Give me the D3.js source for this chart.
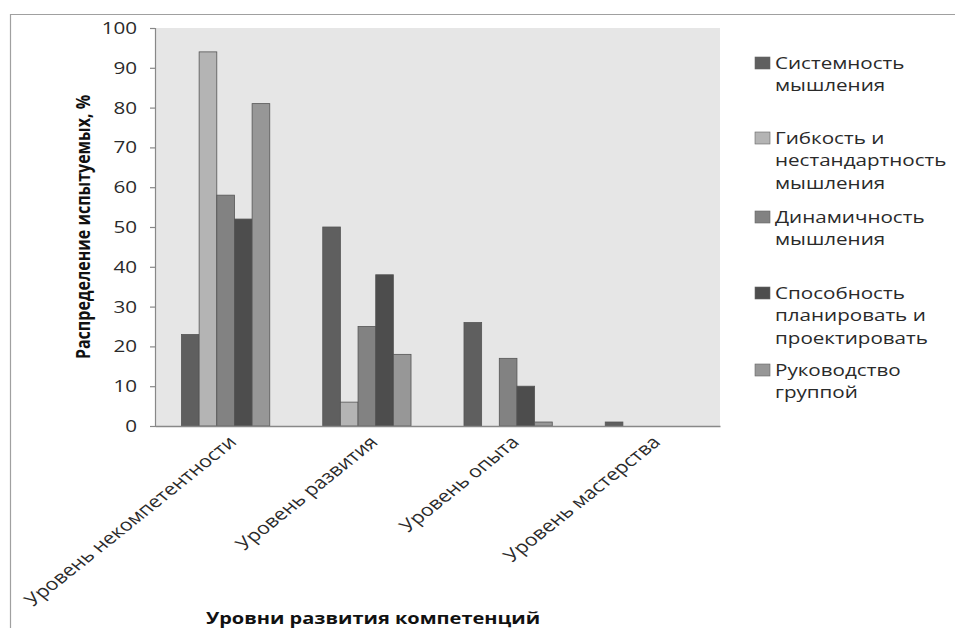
<!DOCTYPE html>
<html>
<head>
<meta charset="utf-8">
<script src="https://cdn.jsdelivr.net/npm/d3@7"></script>
<style>
  html, body { margin: 0; padding: 0; background: #fff; }
  svg { display: block; font-family: "Open Sans", "DejaVu Sans", sans-serif; }
</style>
</head>
<body>
<svg id="chart" width="955" height="628"></svg>
<script>
// Levels of competence development (x categories)
const categories = [
  "Уровень некомпетентности",
  "Уровень развития",
  "Уровень опыта",
  "Уровень мастерства"
];

// Series names (legend text, split into lines)
const seriesNames = [
  ["Системность", "мышления"],
  ["Гибкость и", "нестандартность", "мышления"],
  ["Динамичность", "мышления"],
  ["Способность", "планировать и", "проектировать"],
  ["Руководство", "группой"]
];

// Share of respondents, % — one array per series, one value per level
const systemThinking   = [23, 50, 26, 1];
const flexibleThinking = [94, 6, 0, 0];
const dynamicThinking  = [58, 25, 17, 0];
const planningAbility  = [52, 38, 10, 0];
const groupLeadership  = [81, 18, 1, 0];
const seriesValues = [systemThinking, flexibleThinking, dynamicThinking, planningAbility, groupLeadership];

const yTicks = [0, 10, 20, 30, 40, 50, 60, 70, 80, 90, 100];

const colors = ["#5f5f5f", "#b4b4b4", "#828282", "#4d4d4d", "#979797"];

// text in this chart is drawn slightly wide
const SX = 1.25;
const textColor = "#2a2a2a";

const svg = d3.select("#chart");

// outer chart frame (top and left edges visible)
svg.append("line").attr("x1", 10).attr("y1", 14.5).attr("x2", 955).attr("y2", 14.5)
  .attr("stroke", "#a0a0a0").attr("stroke-width", 1.2);
svg.append("line").attr("x1", 10.5).attr("y1", 14).attr("x2", 10.5).attr("y2", 628)
  .attr("stroke", "#a0a0a0").attr("stroke-width", 1.2);

const plot = { left: 155, right: 720, top: 28, bottom: 426 };

const x0 = d3.scaleBand().domain(categories).range([plot.left, plot.right]).paddingInner(0).paddingOuter(0);
const y = d3.scaleLinear().domain([0, 100]).range([plot.bottom, plot.top]);

// plot area background
svg.append("rect")
  .attr("x", plot.left).attr("y", plot.top)
  .attr("width", plot.right - plot.left).attr("height", plot.bottom - plot.top)
  .attr("fill", "#e6e6e6");

// bars: 5 per group, gap between groups = 3 bar widths
const nSeries = seriesValues.length;
const barW = x0.bandwidth() / (nSeries + 3);
const groupOffset = barW * 1.5;

const rows = [];
categories.forEach((c, ci) => {
  seriesValues.forEach((vals, si) => {
    rows.push({ cat: c, si, v: vals[ci] });
  });
});

svg.append("g").selectAll("rect")
  .data(rows.filter(d => d.v > 0))
  .join("rect")
  .attr("x", d => x0(d.cat) + groupOffset + d.si * barW)
  .attr("y", d => y(d.v))
  .attr("width", barW)
  .attr("height", d => y(0) - y(d.v))
  .attr("fill", d => colors[d.si])
  .attr("stroke", "#555")
  .attr("stroke-width", 0.8);

// y axis (line and ticks from d3, labels drawn wide below)
const yAxis = svg.append("g")
  .attr("transform", `translate(${plot.left},0)`)
  .call(d3.axisLeft(y).tickValues(yTicks).tickSize(5).tickFormat(""));
yAxis.select(".domain").attr("stroke", "#888").attr("stroke-width", 1.2);
yAxis.selectAll(".tick line").attr("stroke", "#888").attr("stroke-width", 1.2);

svg.append("g").selectAll("text")
  .data(yTicks)
  .join("text")
  .attr("transform", d => `translate(${plot.left - 18},${y(d)}) scale(${SX},1)`)
  .attr("text-anchor", "end")
  .attr("dy", "0.36em")
  .attr("font-size", 16.5)
  .attr("fill", textColor)
  .text(d => d);

// x axis baseline
const xAxis = svg.append("g")
  .attr("transform", `translate(0,${plot.bottom})`)
  .call(d3.axisBottom(x0).tickSize(0).tickFormat(""));
xAxis.select(".domain").attr("stroke", "#888").attr("stroke-width", 1.5);

// rotated category labels
svg.append("g").selectAll("text")
  .data(categories)
  .join("text")
  .attr("transform", d => `translate(${x0(d) + x0.bandwidth() / 2 + 7},${plot.bottom + 13}) scale(${SX},1) rotate(-45)`)
  .attr("text-anchor", "end")
  .attr("dy", "0.35em")
  .attr("font-size", 17)
  .attr("fill", textColor)
  .text(d => d);

// axis titles
svg.append("text")
  .attr("transform", `translate(83,${(plot.top + plot.bottom) / 2}) scale(${SX},1) rotate(-90)`)
  .attr("text-anchor", "middle")
  .attr("dy", "0.35em")
  .attr("font-size", 16)
  .attr("font-weight", "bold")
  .attr("fill", "#111")
  .text("Распределение испытуемых, %");

svg.append("text")
  .attr("transform", `translate(373,624) scale(${SX},1)`)
  .attr("text-anchor", "middle")
  .attr("font-size", 16)
  .attr("font-weight", "bold")
  .attr("fill", "#111")
  .text("Уровни развития компетенций");

// legend
const legendTops = [63, 138, 217, 293, 370];
const lineH = 22.5;
const legend = svg.append("g");
seriesNames.forEach((lines, i) => {
  const g = legend.append("g").attr("transform", `translate(755,${legendTops[i]})`);
  g.append("rect")
    .attr("x", 0).attr("y", -6).attr("width", 15).attr("height", 12)
    .attr("fill", colors[i]).attr("stroke", "#666").attr("stroke-width", 0.6);
  g.append("text")
    .attr("transform", `translate(20,0) scale(${SX},1)`)
    .attr("font-size", 16.5)
    .attr("fill", textColor)
    .selectAll("tspan")
    .data(lines)
    .join("tspan")
    .attr("x", 0)
    .attr("y", (d, j) => j * lineH)
    .attr("dy", "0.35em")
    .text(d => d);
});
</script>
</body>
</html>
